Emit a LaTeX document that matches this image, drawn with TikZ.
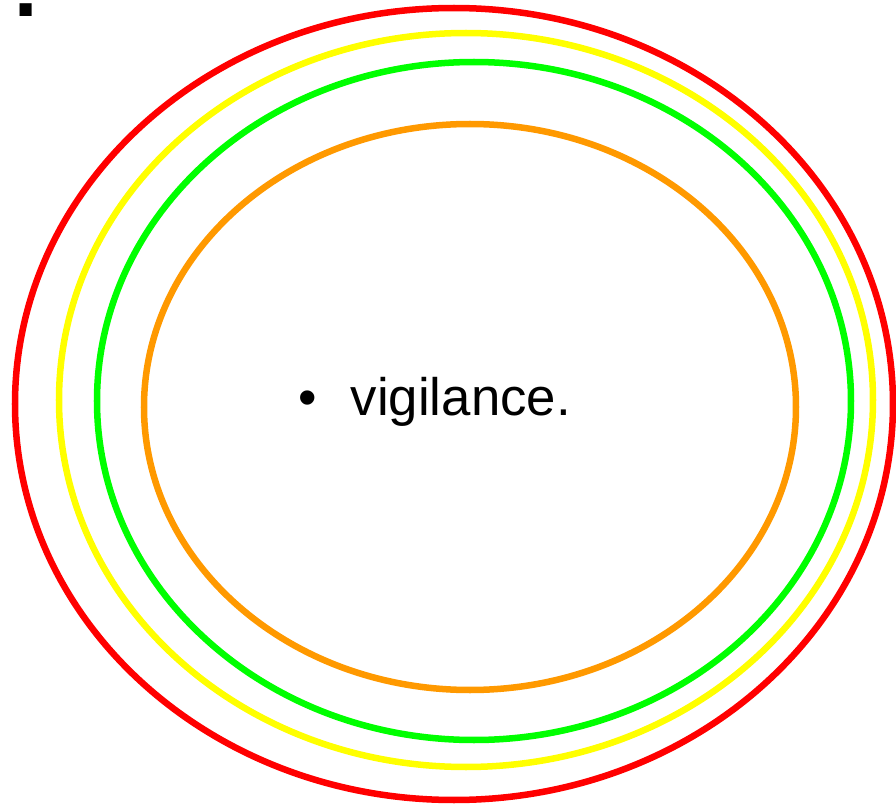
\documentclass[tikz,border=0pt]{standalone}
\usepackage{fontspec}
\setmainfont{Liberation Sans}
\usepackage{xcolor}
\usepackage{tikz}
\definecolor{ringred}{HTML}{FF0000}
\definecolor{ringyellow}{HTML}{FFFF00}
\definecolor{ringgreen}{HTML}{00FF00}
\definecolor{ringorange}{HTML}{FF9900}

\begin{document}
\begin{tikzpicture}[x=0.01cm, y=-0.01cm,
    ring/.style={line width=0.065cm}]
    \useasboundingbox (0,0) rectangle (896,806);
    % rings, outer to inner
    \draw[ring, ringred]    (454,404) ellipse [x radius=439, y radius=396];
    \draw[ring, ringyellow] (466,400) ellipse [x radius=407, y radius=367];
    \draw[ring, ringgreen]  (474,401) ellipse [x radius=377, y radius=339];
    \draw[ring, ringorange] (470,407) ellipse [x radius=326, y radius=283];
    % cut-off heading and the bullet
    \node[anchor=base west, inner sep=0pt, font=\fontsize{36}{40}\selectfont]
      (heading) at (8,16) {:};
    \node[anchor=base west, inner sep=0pt, font=\fontsize{15}{18}\selectfont]
      (item) at (298,415) {\textbullet\hspace{0.64em}vigilance.};
\end{tikzpicture}
\end{document}
